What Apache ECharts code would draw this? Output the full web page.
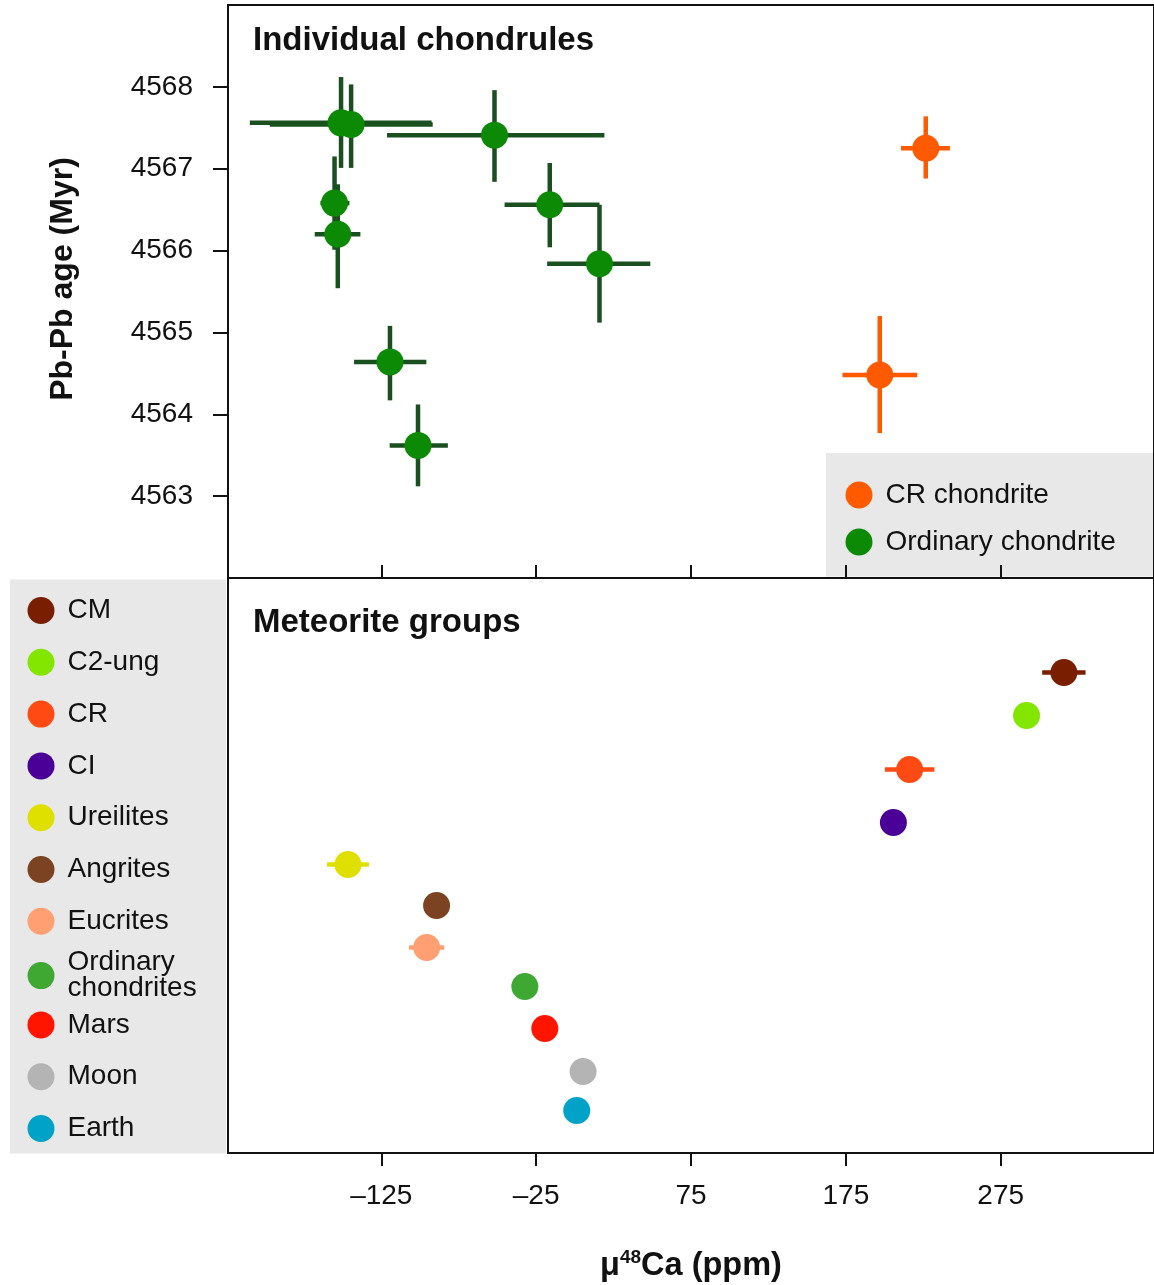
<!DOCTYPE html>
<html>
<head>
<meta charset="utf-8">
<title>Pb-Pb age vs mu48Ca</title>
<script src="https://cdn.jsdelivr.net/npm/echarts@6/dist/echarts.min.js"></script>
<style>
html,body{margin:0;padding:0;background:#fff;}
#main{width:1154px;height:1285px;}
</style>
</head>
<body>
<div id="main"></div>
<script>
/* 数据：上图 单个球粒 */
var ocX     = [-151.0, -144.5, -51.9, -155.2, -153.1, -16.2, 15.9, -119.4, -101.3];
var ocAge   = [4567.56, 4567.54, 4567.41, 4566.58, 4566.20, 4566.56, 4565.84, 4564.64, 4563.62];
var ocXLo   = [-209.9, -197.0, -121.3, -164.3, -168.0, -45.4, -17.9, -142.6, -119.6];
var ocXHi   = [-92.5, -91.8, 19.1, -145.6, -138.5, 15.9, 48.7, -95.9, -82.0];
var ocAgeLo = [4567.01, 4567.01, 4566.84, 4566.01, 4565.54, 4566.04, 4565.12, 4564.17, 4563.12];
var ocAgeHi = [4568.12, 4568.03, 4567.96, 4567.15, 4566.81, 4567.07, 4566.56, 4565.08, 4564.12];

var crX     = [226.6, 196.9];
var crAge   = [4567.25, 4564.48];
var crXLo   = [210.6, 172.8];
var crXHi   = [242.2, 221.1];
var crAgeLo = [4566.88, 4563.77];
var crAgeHi = [4567.64, 4565.20];

/* 数据：下图 陨石群 */
var groups     = ['CM', 'C2-ung', 'CR', 'CI', 'Ureilites', 'Angrites', 'Eucrites', 'Ordinary\nchondrites', 'Mars', 'Moon', 'Earth'];
var groupMu    = [315.8, 291.7, 216.2, 205.7, -146.5, -89.3, -95.7, -32.3, -19.4, 5.3, 1.2];
var groupErr   = [14, 0, 16, 0, 13.5, 0, 11.4, 0, 0, 0, 0];
var groupRow   = [18.9, 27.5, 38.3, 48.9, 57.3, 65.5, 73.9, 81.7, 90.1, 98.7, 106.5];
var groupColor = ['#7a1e00', '#82e600', '#ff4a14', '#4a0096', '#e0e000', '#7b4322', '#ff9f72', '#3fa833', '#ff1500', '#b4b4b4', '#00a2c8'];

/* 刻度 */
var muTicks  = [-125, -25, 75, 175, 275];
var ageTicks = [4563, 4564, 4565, 4566, 4567, 4568];

var FONT = 'Liberation Sans';
var FS = 28;
var myChart = echarts.init(document.getElementById('main'));

function packErr(x, y, xlo, xhi, ylo, yhi) {
    return x.map(function (v, i) { return [v, y[i], xlo[i], xhi[i], ylo[i], yhi[i]]; });
}

// 误差棒
function errRender(color, width) {
    return function (params, api) {
        var x = api.value(0), y = api.value(1);
        var p1 = api.coord([api.value(2), y]), p2 = api.coord([api.value(3), y]);
        var p3 = api.coord([x, api.value(4)]), p4 = api.coord([x, api.value(5)]);
        var st = { stroke: color, lineWidth: width };
        return {
            type: 'group', children: [
                { type: 'line', shape: { x1: p1[0], y1: p1[1], x2: p2[0], y2: p2[1] }, style: st },
                { type: 'line', shape: { x1: p3[0], y1: p3[1], x2: p4[0], y2: p4[1] }, style: st }
            ]
        };
    };
}

// 每个图例单独摆放（中心 y）
function oneLegend(name, left, cy) {
    var lines = name.split('\n').length;
    var h = lines > 1 ? lines * 26 - 4 : 27;
    return {
        data: [name], orient: 'vertical', left: left, top: cy - h / 2, padding: 0,
        itemWidth: 27, itemHeight: 27, itemGap: 0, selectedMode: false,
        textStyle: { fontSize: FS, color: '#111', fontFamily: FONT, lineHeight: lines > 1 ? 26 : 27, padding: [0, 0, 0, 8] }
    };
}

var legends = [oneLegend('CR chondrite', 845.5, 494.5), oneLegend('Ordinary chondrite', 845.5, 541.5)];
groups.forEach(function (g, i) { legends.push(oneLegend(g, 27.5, 610 + i * 51.8)); });

var groupSeries = groups.map(function (g, i) {
    return {
        name: g, type: 'scatter', xAxisIndex: 1, yAxisIndex: 1,
        symbolSize: 27, z: 5,
        itemStyle: { color: groupColor[i], opacity: 1 },
        data: [[groupMu[i], groupRow[i]]]
    };
});

var option = {
    animation: false,
    textStyle: { fontFamily: FONT },
    title: [
        { text: 'Individual chondrules', left: 253, top: 24, padding: 0, textStyle: { fontSize: 33, fontWeight: 'bold', color: '#111', fontFamily: FONT } },
        { text: 'Meteorite groups', left: 253, top: 606, padding: 0, textStyle: { fontSize: 33, fontWeight: 'bold', color: '#111', fontFamily: FONT } }
    ],
    graphic: [
        { type: 'rect', shape: { x: 826, y: 453, width: 330, height: 123.5 }, style: { fill: '#e8e8e8' }, z: -1 },
        { type: 'rect', shape: { x: 10, y: 579.5, width: 216, height: 574 }, style: { fill: '#e8e8e8' }, z: -1 },
        {
            type: 'text', x: 63, y: 279, rotation: Math.PI / 2,
            style: { text: 'Pb-Pb age (Myr)', fontSize: 32, fontWeight: 'bold', fontFamily: FONT, fill: '#111', align: 'center', verticalAlign: 'middle' }
        }
    ],
    legend: legends,
    grid: [
        { left: 228, top: 5, width: 928, height: 573, show: true, borderColor: '#111', borderWidth: 2 },
        { left: 228, top: 578, width: 928, height: 575, show: true, borderColor: '#111', borderWidth: 2 }
    ],
    xAxis: [
        {
            gridIndex: 0, type: 'value', min: -224, max: 374,
            axisLine: { show: false, onZero: false }, splitLine: { show: false },
            axisTick: { show: true, inside: true, length: 13, customValues: muTicks, lineStyle: { color: '#111', width: 2 } },
            axisLabel: { show: false }
        },
        {
            gridIndex: 1, type: 'value', min: -224, max: 374,
            axisLine: { show: false, onZero: false }, splitLine: { show: false },
            axisTick: { show: true, length: 13, customValues: muTicks, lineStyle: { color: '#111', width: 2 } },
            axisLabel: {
                show: true, customValues: muTicks, margin: 29, fontSize: FS, color: '#111', fontFamily: FONT,
                formatter: function (v) { return String(v).replace('-', '\u2013'); }
            },
            name: '{a|\u03bc}{b|48}{a|Ca (ppm)}', nameLocation: 'middle', nameGap: 95,
            nameTextStyle: {
                rich: {
                    a: { fontSize: 32.5, fontWeight: 'bold', color: '#111', fontFamily: FONT, lineHeight: 36 },
                    b: { fontSize: 19, fontWeight: 'bold', color: '#111', fontFamily: FONT, lineHeight: 20, verticalAlign: 'top' }
                }
            }
        }
    ],
    yAxis: [
        {
            gridIndex: 0, type: 'value', min: 4562, max: 4569,
            axisLine: { show: false, onZero: false }, splitLine: { show: false },
            axisTick: { show: true, length: 15, customValues: ageTicks, lineStyle: { color: '#111', width: 2 } },
            axisLabel: {
                show: true, customValues: ageTicks, margin: 35, fontSize: FS, color: '#111', fontFamily: FONT,
                formatter: function (v) { return String(v); }
            }
        },
        {
            gridIndex: 1, type: 'value', min: 0, max: 115, inverse: true, show: false
        }
    ],
    series: [
        {
            type: 'custom', xAxisIndex: 0, yAxisIndex: 0, z: 2, silent: true,
            renderItem: errRender('#1a4f20', 4.5),
            encode: { x: 0, y: 1 },
            data: packErr(ocX, ocAge, ocXLo, ocXHi, ocAgeLo, ocAgeHi)
        },
        {
            type: 'custom', xAxisIndex: 0, yAxisIndex: 0, z: 2, silent: true,
            renderItem: errRender('#ff5a00', 4.5),
            encode: { x: 0, y: 1 },
            data: packErr(crX, crAge, crXLo, crXHi, crAgeLo, crAgeHi)
        },
        {
            name: 'CR chondrite', type: 'scatter', xAxisIndex: 0, yAxisIndex: 0, symbolSize: 27, z: 5,
            itemStyle: { color: '#ff5a00', opacity: 1 },
            data: crX.map(function (v, i) { return [v, crAge[i]]; })
        },
        {
            name: 'Ordinary chondrite', type: 'scatter', xAxisIndex: 0, yAxisIndex: 0, symbolSize: 27, z: 5,
            itemStyle: { color: '#0c8a06', opacity: 1 },
            data: ocX.map(function (v, i) { return [v, ocAge[i]]; })
        },
        {
            type: 'custom', xAxisIndex: 1, yAxisIndex: 1, z: 2, silent: true,
            encode: { x: 0, y: 1 },
            renderItem: function (params, api) {
                var y = api.value(1);
                var p1 = api.coord([api.value(0) - api.value(2), y]);
                var p2 = api.coord([api.value(0) + api.value(2), y]);
                return { type: 'line', shape: { x1: p1[0], y1: p1[1], x2: p2[0], y2: p2[1] },
                    style: { stroke: groupColor[params.dataIndex], lineWidth: 4.5 } };
            },
            data: groupMu.map(function (v, i) { return [v, groupRow[i], groupErr[i]]; })
        }
    ].concat(groupSeries)
};

myChart.setOption(option);
</script>
</body>
</html>
